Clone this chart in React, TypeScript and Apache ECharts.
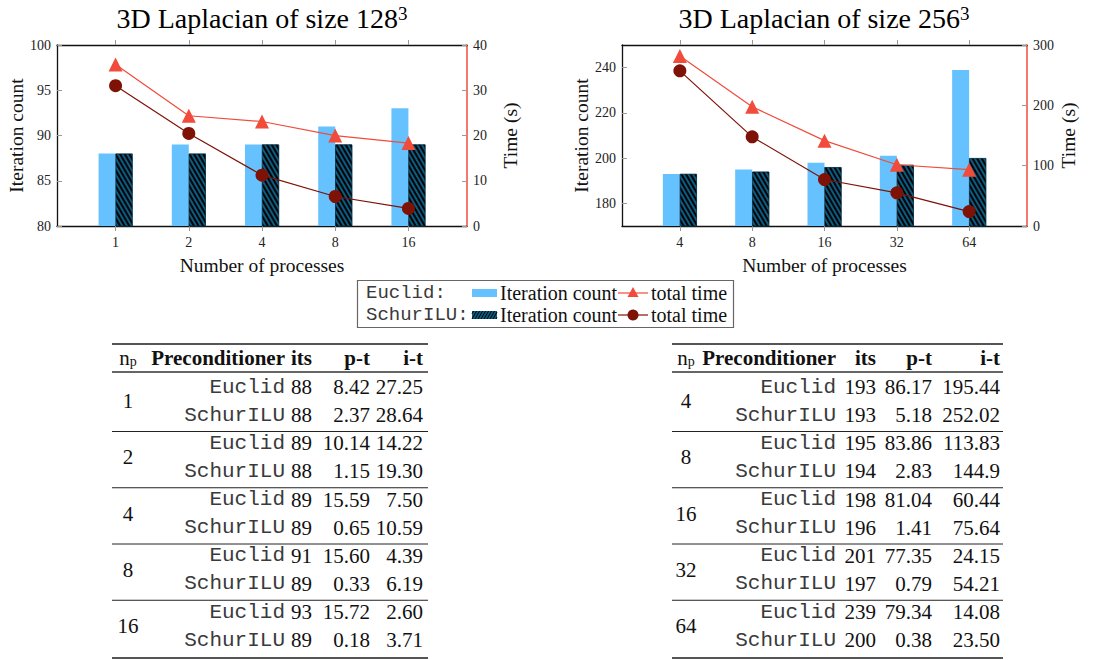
import React, { useEffect, useRef } from "react";
import * as echarts from "echarts";

// ---------- data ----------
const procsA = ["1", "2", "4", "8", "16"];
const procsB = ["4", "8", "16", "32", "64"];
const itsEuclidA = [88, 89, 89, 91, 93];
const itsSchurA = [88, 88, 89, 89, 89];
const timeEuclidA = [35.67, 24.36, 23.09, 19.99, 18.32];
const timeSchurA = [31.01, 20.45, 11.24, 6.52, 3.89];
const itsEuclidB = [193, 195, 198, 201, 239];
const itsSchurB = [193, 194, 196, 197, 200];
const timeEuclidB = [281.61, 197.69, 141.48, 101.5, 93.42];
const timeSchurB = [257.2, 147.73, 77.05, 55.0, 23.88];

const ptEuclidA = ["8.42", "10.14", "15.59", "15.60", "15.72"];
const itEuclidA = ["27.25", "14.22", "7.50", "4.39", "2.60"];
const ptSchurA = ["2.37", "1.15", "0.65", "0.33", "0.18"];
const itSchurA = ["28.64", "19.30", "10.59", "6.19", "3.71"];
const ptEuclidB = ["86.17", "83.86", "81.04", "77.35", "79.34"];
const itEuclidB = ["195.44", "113.83", "60.44", "24.15", "14.08"];
const ptSchurB = ["5.18", "2.83", "1.41", "0.79", "0.38"];
const itSchurB = ["252.02", "144.9", "75.64", "54.21", "23.50"];

const leftTicksA = [80, 85, 90, 95, 100];
const rightTicksA = [0, 10, 20, 30, 40];
const leftTicksB = [180, 200, 220, 240];
const rightTicksB = [0, 100, 200, 300];

// ---------- styles ----------
const SERIF = "'Liberation Serif', 'DejaVu Serif', serif";
const MONO = "'Liberation Mono', 'DejaVu Sans Mono', monospace";
const BLUE = "#66c2ff";
const DARK = "#0d5b80";
const RED = "#f04b3b";
const DRED = "#7f1206";
const TICK = "#999";

const idx = [0, 1, 2, 3, 4];
const pairs = (vals: number[]) => vals.map((v, i) => [i, v]);

function buildChart(
  gi: number,
  procs: string[],
  itsE: number[],
  itsS: number[],
  tE: number[],
  tS: number[],
  yl: [number, number],
  ylTicks: number[],
  yr: [number, number],
  yrTicks: number[],
  nameGapL: number,
  nameGapR: number
) {
  const xBase = {
    gridIndex: gi,
    type: "value",
    min: -0.8,
    max: 4.8,
    splitLine: { show: false },
  };
  const xAxes = [
    {
      ...xBase,
      position: "bottom",
      axisLine: { show: true, onZero: false, lineStyle: { color: "#111", width: 1.3 } },
      axisTick: { show: true, inside: false, length: 5, customValues: idx, lineStyle: { color: TICK } },
      axisLabel: {
        customValues: idx,
        formatter: (v: number) => procs[Math.round(v)],
        fontFamily: SERIF,
        fontSize: 14,
        color: "#222",
        margin: 9,
      },
      name: "Number of processes",
      nameLocation: "middle",
      nameGap: 29,
      nameTextStyle: { fontFamily: SERIF, fontSize: 19.5, color: "#111" },
    },
    {
      ...xBase,
      position: "top",
      axisLine: { show: true, onZero: false, lineStyle: { color: "#111", width: 1.3 } },
      axisTick: { show: true, inside: false, length: 5, customValues: idx, lineStyle: { color: TICK } },
      axisLabel: { show: false },
    },
  ];
  const yAxes = [
    {
      gridIndex: gi,
      type: "value",
      position: "left",
      min: yl[0],
      max: yl[1],
      splitLine: { show: false },
      axisLine: { show: true, onZero: false, lineStyle: { color: "#111", width: 1.3 } },
      axisTick: { show: true, inside: true, length: 5, customValues: ylTicks, lineStyle: { color: TICK } },
      axisLabel: { customValues: ylTicks, fontFamily: SERIF, fontSize: 14, color: "#222", margin: 6 },
      name: "Iteration count",
      nameLocation: "middle",
      nameRotate: 90,
      nameGap: nameGapL,
      nameTextStyle: { fontFamily: SERIF, fontSize: 19.5, color: "#111" },
    },
    {
      gridIndex: gi,
      type: "value",
      position: "right",
      min: yr[0],
      max: yr[1],
      splitLine: { show: false },
      axisLine: { show: true, onZero: false, lineStyle: { color: RED, width: 1.5 } },
      axisTick: { show: true, inside: true, length: 5, customValues: yrTicks, lineStyle: { color: TICK } },
      axisLabel: { customValues: yrTicks, fontFamily: SERIF, fontSize: 14, color: "#222", margin: 6 },
      name: "Time (s)",
      nameLocation: "middle",
      nameRotate: 90,
      nameGap: nameGapR,
      nameTextStyle: { fontFamily: SERIF, fontSize: 19.5, color: "#111" },
    },
  ];
  const xi = gi * 2;
  const yi = gi * 2;
  const series = [
    {
      type: "bar",
      xAxisIndex: xi,
      yAxisIndex: yi,
      data: pairs(itsE),
      barWidth: 17,
      barGap: "0%",
      itemStyle: { color: BLUE },
      z: 2,
    },
    {
      type: "bar",
      xAxisIndex: xi,
      yAxisIndex: yi,
      data: pairs(itsS),
      barWidth: 17,
      barGap: "0%",
      itemStyle: {
        color: DARK,
        borderColor: "#083247",
        borderWidth: 0.6,
        decal: {
          symbol: "rect",
          symbolSize: 1,
          color: "rgba(0,0,0,0.95)",
          dashArrayX: [1, 0],
          dashArrayY: [1.6, 1.8],
          rotation: Math.PI / 3,
        },
      },
      z: 2,
    },
    {
      type: "line",
      xAxisIndex: xi,
      yAxisIndex: yi + 1,
      data: pairs(tE),
      symbol: "triangle",
      symbolSize: 14,
      lineStyle: { color: RED, width: 1.2 },
      itemStyle: { color: RED },
      z: 4,
    },
    {
      type: "line",
      xAxisIndex: xi,
      yAxisIndex: yi + 1,
      data: pairs(tS),
      symbol: "circle",
      symbolSize: 13,
      lineStyle: { color: DRED, width: 1.2 },
      itemStyle: { color: DRED },
      z: 5,
    },
  ];
  return { xAxes, yAxes, series };
}

function txt(
  text: string,
  x: number,
  y: number,
  opts: { font?: string; size?: number; weight?: string; align?: string; color?: string; rich?: any } = {}
) {
  const align = opts.align || "left";
  return {
    type: "text",
    x,
    y,
    silent: true,
    style: {
      text,
      fontFamily: opts.font || SERIF,
      fontSize: opts.size || 21,
      fontWeight: opts.weight || "normal",
      fill: opts.color || "#111",
      align,
      verticalAlign: "middle",
      textAlign: align,
      textVerticalAlign: "middle",
      rich: opts.rich,
    },
  };
}

function rule(x1: number, x2: number, y: number, w: number, color: string) {
  return {
    type: "line",
    silent: true,
    shape: { x1, y1: y, x2, y2: y },
    style: { stroke: color, lineWidth: w },
  };
}

function buildTable(
  cols: { np: number; pre: number; its: number; pt: number; it: number; l: number; r: number },
  procs: string[],
  itsE: number[],
  itsS: number[],
  ptE: string[],
  itE: string[],
  ptS: string[],
  itS: string[]
) {
  const els: any[] = [];
  const headY = 358;
  els.push(rule(cols.l, cols.r, 344, 1.8, "#555"));
  els.push(
    txt("n{sub|p}", cols.np, headY, {
      size: 21,
      rich: { sub: { fontSize: 14, fontFamily: SERIF, verticalAlign: "bottom", padding: [6, 0, 0, 0] } },
      align: "center",
    })
  );
  els.push(txt("Preconditioner", cols.pre, headY, { weight: "bold", align: "right" }));
  els.push(txt("its", cols.its, headY, { weight: "bold", align: "right" }));
  els.push(txt("p-t", cols.pt, headY, { weight: "bold", align: "right" }));
  els.push(txt("i-t", cols.it, headY, { weight: "bold", align: "right" }));
  els.push(rule(cols.l, cols.r, 372, 1.4, "#333"));
  procs.forEach((p, g) => {
    const ey = 387 + g * 56.25;
    const sy = ey + 28;
    els.push(txt(p, cols.np, ey + 14, { align: "center" }));
    els.push(txt("Euclid", cols.pre, ey, { font: MONO, size: 21, align: "right", color: "#3a3a3a" }));
    els.push(txt("SchurILU", cols.pre, sy, { font: MONO, size: 21, align: "right", color: "#3a3a3a" }));
    els.push(txt(String(itsE[g]), cols.its, ey, { align: "right" }));
    els.push(txt(String(itsS[g]), cols.its, sy, { align: "right" }));
    els.push(txt(ptE[g], cols.pt, ey, { align: "right" }));
    els.push(txt(ptS[g], cols.pt, sy, { align: "right" }));
    els.push(txt(itE[g], cols.it, ey, { align: "right" }));
    els.push(txt(itS[g], cols.it, sy, { align: "right" }));
    if (g < procs.length - 1) els.push(rule(cols.l, cols.r, ey + 44.5, 1, "#222"));
    else els.push(rule(cols.l, cols.r, 658, 1.8, "#555"));
  });
  return els;
}

function buildLegend() {
  const els: any[] = [];
  els.push({
    type: "rect",
    silent: true,
    shape: { x: 357.5, y: 280.5, width: 376, height: 47 },
    style: { fill: "#fff", stroke: "#666", lineWidth: 1.2 },
  });
  const r1 = 293;
  const r2 = 315;
  els.push(txt("Euclid:", 366, r1, { font: MONO, size: 19, color: "#3a3a3a" }));
  els.push(txt("SchurILU:", 366, r2, { font: MONO, size: 19, color: "#3a3a3a" }));
  els.push({ type: "rect", silent: true, shape: { x: 472, y: r1 - 4, width: 25, height: 8 }, style: { fill: BLUE } });
  els.push({ type: "rect", silent: true, shape: { x: 472, y: r2 - 4, width: 25, height: 8 }, style: { fill: DARK } });
  for (let k = -1; k < 9; k++) {
    let x0 = 472 + k * 3;
    let x1 = x0 + 4.6;
    let y0 = r2 + 4;
    let y1 = r2 - 4;
    if (x0 < 472) {
      y0 = y0 - ((472 - x0) / 4.6) * 8;
      x0 = 472;
    }
    if (x1 > 497) {
      y1 = y1 + ((x1 - 497) / 4.6) * 8;
      x1 = 497;
    }
    if (x1 <= x0) continue;
    els.push({
      type: "line",
      silent: true,
      shape: { x1: x0, y1: y0, x2: x1, y2: y1 },
      style: { stroke: "#000", lineWidth: 1 },
    });
  }
  els.push(txt("Iteration count", 500, r1, { size: 20 }));
  els.push(txt("Iteration count", 500, r2, { size: 20 }));
  els.push(rule(618, 648, r1, 1.2, RED));
  els.push({
    type: "polygon",
    silent: true,
    shape: { points: [[633, r1 - 6], [627.5, r1 + 4], [638.5, r1 + 4]] },
    style: { fill: RED },
  });
  els.push(rule(618, 648, r2, 1.2, DRED));
  els.push({ type: "circle", silent: true, shape: { cx: 633, cy: r2, r: 5.5 }, style: { fill: DRED } });
  els.push(txt("total time", 651, r1, { size: 20 }));
  els.push(txt("total time", 651, r2, { size: 20 }));
  return els;
}

export default function App() {
  const ref = useRef<HTMLDivElement>(null);
  useEffect(() => {
    if (!ref.current) return;
    const chart = echarts.init(ref.current, undefined, { renderer: "svg" });
    const a = buildChart(0, procsA, itsEuclidA, itsSchurA, timeEuclidA, timeSchurA, [80, 100], leftTicksA, [0, 40], rightTicksA, 30, 33);
    const b = buildChart(1, procsB, itsEuclidB, itsSchurB, timeEuclidB, timeSchurB, [170, 250], leftTicksB, [0, 300], rightTicksB, 31, 31);
    const titleRich = { sup: { fontSize: 19, fontFamily: SERIF, verticalAlign: "top", padding: [0, 0, 8, 0] } };
    const graphics = [
      txt("3D Laplacian of size 128{sup|3}", 262, 18, { size: 28, align: "center", rich: titleRich, color: "#000" }),
      txt("3D Laplacian of size 256{sup|3}", 824, 18, { size: 28, align: "center", rich: titleRich, color: "#000" }),
      ...buildLegend(),
      ...buildTable(
        { np: 128, pre: 285, its: 312, pt: 370, it: 423, l: 112, r: 428 },
        procsA, itsEuclidA, itsSchurA, ptEuclidA, itEuclidA, ptSchurA, itSchurA
      ),
      ...buildTable(
        { np: 686, pre: 836, its: 876, pt: 932, it: 1000, l: 672, r: 1003 },
        procsB, itsEuclidB, itsSchurB, ptEuclidB, itEuclidB, ptSchurB, itSchurB
      ),
    ];
    chart.setOption({
      animation: false,
      backgroundColor: "#fff",
      grid: [
        { left: 57, top: 45, width: 410, height: 181, containLabel: false },
        { left: 622, top: 45, width: 405, height: 181, containLabel: false },
      ],
      xAxis: [...a.xAxes, ...b.xAxes],
      yAxis: [...a.yAxes, ...b.yAxes],
      series: [...a.series, ...b.series],
      graphic: graphics,
    });
    return () => chart.dispose();
  }, []);
  return (
    <div
      ref={ref}
      style={{ position: "absolute", left: 0, top: 0, width: 1108, height: 660 }}
    />
  );
}
